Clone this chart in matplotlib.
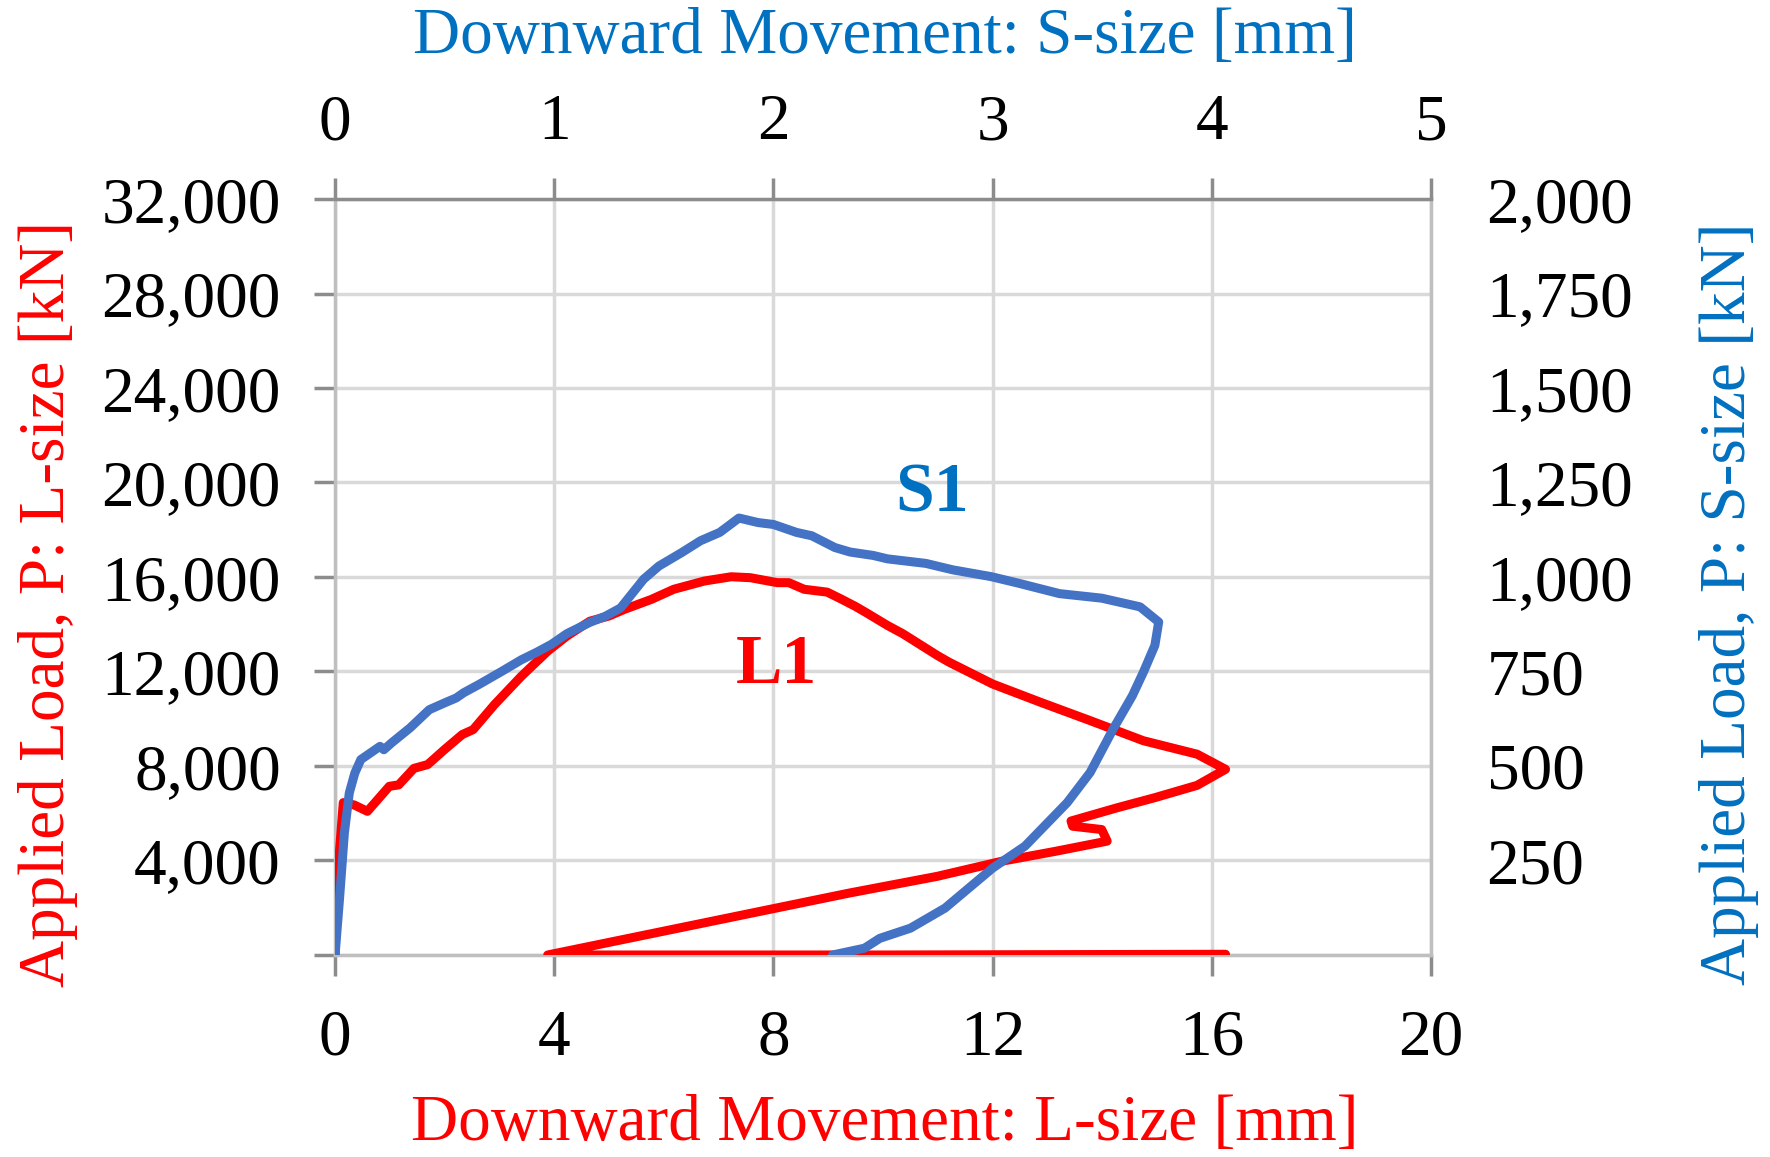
import numpy as np
import matplotlib
matplotlib.use("Agg")
import matplotlib.pyplot as plt

plt.rcParams['font.family'] = ['Liberation Serif', 'DejaVu Serif']

# L1 (L-size): movement [mm], load [kN]
l1_disp = [0.0, 0.05, 0.15, 0.35, 0.59, 0.99, 1.16, 1.44, 1.69, 2.0, 2.32, 2.52,
           2.91, 3.4, 3.88, 4.23, 4.65, 5.0, 5.28, 5.77, 6.18, 6.74, 7.23, 7.58,
           8.07, 8.28, 8.56, 8.98, 9.25, 9.5, 9.7, 10.08, 10.36, 10.99, 11.2,
           12.0, 12.87, 13.78, 14.75, 15.73, 16.25, 15.73, 14.96, 14.27, 13.43,
           13.46, 13.99, 14.09, 13.15, 12.17, 10.99, 9.38, 3.88, 10.0, 16.25]
l1_load = [0, 3500, 6450, 6350, 6080, 7140, 7200, 7900, 8060, 8700, 9330, 9540,
           10600, 11800, 12860, 13500, 14130, 14350, 14630, 15050, 15480, 15830,
           16010, 15970, 15760, 15760, 15480, 15360, 15050, 14750, 14480, 13950,
           13600, 12680, 12400, 11470, 10700, 9920, 9070, 8500, 7860, 7180, 6660,
           6230, 5670, 5450, 5310, 4820, 4390, 3970, 3330, 2620, 0, 0, 30]

# S1 (S-size): movement [mm], load [kN]
s1_disp = [0.0, 0.02, 0.0425, 0.065, 0.09, 0.1175, 0.16, 0.205, 0.2225, 0.2575,
           0.3425, 0.43, 0.5, 0.5525, 0.5875, 0.6575, 0.7625, 0.85, 0.92, 0.9875,
           1.0575, 1.1625, 1.2325, 1.3025, 1.4075, 1.4775, 1.5825, 1.6675, 1.755,
           1.8425, 1.93, 2.0, 2.105, 2.175, 2.28, 2.35, 2.455, 2.52, 2.695, 2.8175,
           2.9925, 3.115, 3.305, 3.4975, 3.6725, 3.7575, 3.74, 3.6875, 3.6375,
           3.55, 3.445, 3.34, 3.1475, 3.0, 2.7825, 2.625, 2.485, 2.415, 2.27]
s1_load = [0, 146, 323, 429, 481, 517, 534, 552, 543, 561, 601, 649, 667, 680,
           694, 716, 751, 781, 801, 822, 850, 880, 896, 918, 994, 1029, 1065,
           1096, 1118, 1156, 1144, 1139, 1118, 1109, 1078, 1066, 1057, 1048,
           1036, 1019, 1001, 984, 956, 944, 921, 881, 819, 748, 686, 598, 483,
           403, 288, 230, 124, 71, 44, 18, 0]

l_xticks = [0, 4, 8, 12, 16, 20]
l_yticks = [0, 4000, 8000, 12000, 16000, 20000, 24000, 28000, 32000]
s_xticks = [0, 1, 2, 3, 4, 5]
s_yticks = [0, 250, 500, 750, 1000, 1250, 1500, 1750, 2000]

red = '#FF0000'
blue_line = '#4472C4'
blue_text = '#0070C0'
fs = 47

fig = plt.figure(figsize=(17.7, 11.57), dpi=100)
pos = [0.1893, 0.1746, 0.6192, 0.6534]
ax = fig.add_axes(pos)
ax.set_xlim(0, 20)
ax.set_ylim(0, 32000)
ax.set_xticks(l_xticks)
ax.set_yticks(l_yticks)
ax.set_xticklabels([str(v) for v in l_xticks])
ax.set_yticklabels(['' if v == 0 else f'{v:,}' for v in l_yticks])
ax.grid(True, color='#D9D9D9', lw=2.5)
ax.set_axisbelow(True)
for s in ['left', 'bottom', 'right']:
    ax.spines[s].set_color('#BFBFBF')
    ax.spines[s].set_linewidth(2.5)
ax.spines['top'].set_color('#8C8C8C')
ax.spines['top'].set_linewidth(2.5)
ax.tick_params(axis='both', labelsize=fs, length=15, width=2.5, color='#8C8C8C')
ax.tick_params(axis='x', pad=24)
ax.tick_params(axis='y', pad=24)

ax.plot(l1_disp, l1_load, color=red, lw=6.5, solid_joinstyle='round',
        solid_capstyle='round', zorder=3)

ax_s = fig.add_axes(pos, frameon=False)
ax_s.set_xlim(0, 5)
ax_s.set_ylim(0, 2000)
ax_s.xaxis.tick_top()
ax_s.yaxis.tick_right()
ax_s.set_xticks(s_xticks)
ax_s.set_yticks(s_yticks)
ax_s.set_yticklabels(['' if v == 0 else f'{v:,}' for v in s_yticks])
ax_s.tick_params(axis='both', labelsize=fs, length=15, width=2.5, color='#8C8C8C')
ax_s.tick_params(axis='y', length=0, pad=40)
ax_s.tick_params(axis='x', pad=18)
ax_s.plot(s1_disp, s1_load, color=blue_line, lw=6.5, solid_joinstyle='round',
          solid_capstyle='round', zorder=4)

ax.text(10.9, 19500, 'S1', color=blue_text, fontsize=fs + 3, fontweight='bold',
        ha='center', va='center', zorder=5)
ax.text(8.05, 12230, 'L1', color=red, fontsize=fs + 3, fontweight='bold',
        ha='center', va='center', zorder=5)

fig.text(0.5, 0.028, 'Downward Movement: L-size [mm]', color=red, fontsize=fs,
         ha='center', va='center')
fig.text(0.5, 0.968, 'Downward Movement: S-size [mm]', color=blue_text, fontsize=fs,
         ha='center', va='center')
fig.text(0.027, 0.478, 'Applied Load, P: L-size [kN]', color=red, fontsize=fs,
         rotation=90, ha='center', va='center')
fig.text(0.977, 0.478, 'Applied Load, P: S-size [kN]', color=blue_text, fontsize=fs,
         rotation=90, ha='center', va='center')

fig.savefig('out.png', dpi=100)
